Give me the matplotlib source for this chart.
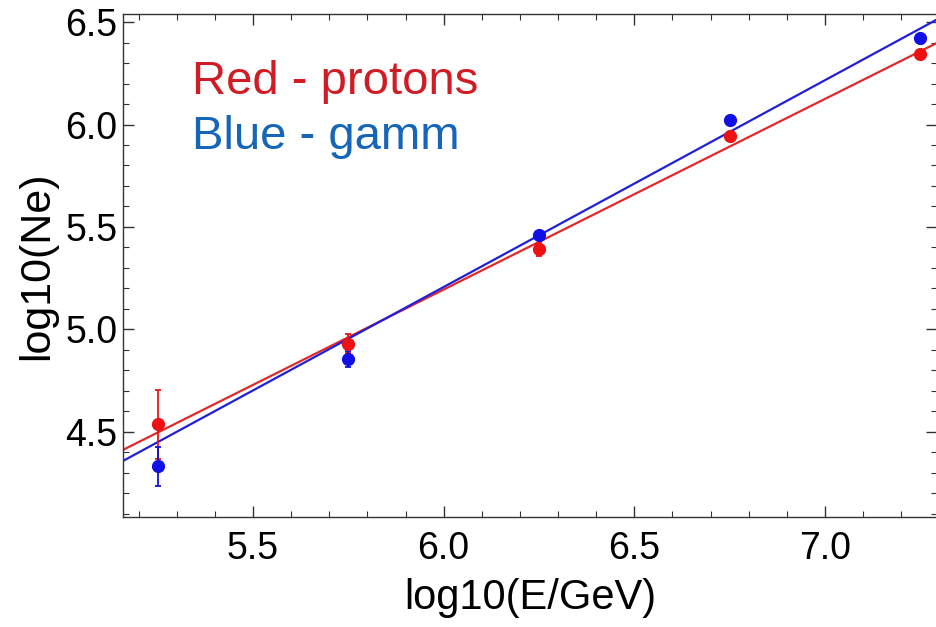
import matplotlib

matplotlib.use("Agg")
import matplotlib.pyplot as plt
import numpy as np
from matplotlib.ticker import FormatStrFormatter, MultipleLocator

plt.rcParams["font.family"] = ["Liberation Sans", "DejaVu Sans"]

# data
log_e = [5.25, 5.75, 6.25, 6.75, 7.25]
ne_protons = [4.535, 4.93, 5.39, 5.945, 6.345]
err_protons = [0.17, 0.045, 0.03, 0.015, 0.015]
ne_gamma = [4.33, 4.855, 5.46, 6.02, 6.425]
err_gamma = [0.095, 0.04, 0.015, 0.01, 0.01]

# fitted lines (slope, intercept at x=0)
fit_protons = (0.931, 4.411 - 0.931 * 5.159)
fit_gamma = (1.010, 4.357 - 1.010 * 5.159)

x_lim = (5.159, 7.294)
y_lim = (4.083, 6.54)

fig = plt.figure(figsize=(9.37, 6.27), dpi=100)
ax = fig.add_axes([0.1313, 0.1754, 0.8687, 0.8023])

xs = np.array(x_lim)
ax.plot(xs, fit_protons[0] * xs + fit_protons[1], color="#e02a2a", lw=1.6, zorder=2)
ax.plot(xs, fit_gamma[0] * xs + fit_gamma[1], color="#2020d8", lw=1.6, zorder=2)

ax.errorbar(log_e, ne_protons, yerr=err_protons, fmt="o", color="#ee1111",
            ms=8.5, capsize=2.5, elinewidth=1.3, capthick=1.3, zorder=3)
ax.errorbar(log_e, ne_gamma, yerr=err_gamma, fmt="o", color="#1010e6",
            ms=8.5, capsize=2.5, elinewidth=1.3, capthick=1.3, zorder=3)

ax.set_xlim(*x_lim)
ax.set_ylim(*y_lim)
ax.xaxis.set_major_locator(MultipleLocator(0.5))
ax.xaxis.set_minor_locator(MultipleLocator(0.1))
ax.yaxis.set_major_locator(MultipleLocator(0.5))
ax.yaxis.set_minor_locator(MultipleLocator(0.1))
ax.xaxis.set_major_formatter(FormatStrFormatter("%.1f"))
ax.yaxis.set_major_formatter(FormatStrFormatter("%.1f"))
ax.tick_params(which="both", direction="in", top=True, right=True,
               labelsize=27, color="#333333")
ax.tick_params(which="major", length=8, width=1)
ax.tick_params(which="minor", length=4, width=0.8)
ax.tick_params(axis="x", pad=10)
ax.tick_params(axis="y", pad=4)
for sp in ax.spines.values():
    sp.set_color("#333333")
    sp.set_linewidth(1.0)

ax.set_xlabel("log10(E/GeV)", fontsize=30, labelpad=8)
ax.set_ylabel("log10(Ne)", fontsize=31, labelpad=6)

ax.text(0.085, 0.865, "Red - protons", transform=ax.transAxes,
        fontsize=34, color="#d01d25", va="center")
ax.text(0.085, 0.755, "Blue - gamm", transform=ax.transAxes,
        fontsize=34, color="#1565b8", va="center")

fig.savefig("out.png", dpi=100)
